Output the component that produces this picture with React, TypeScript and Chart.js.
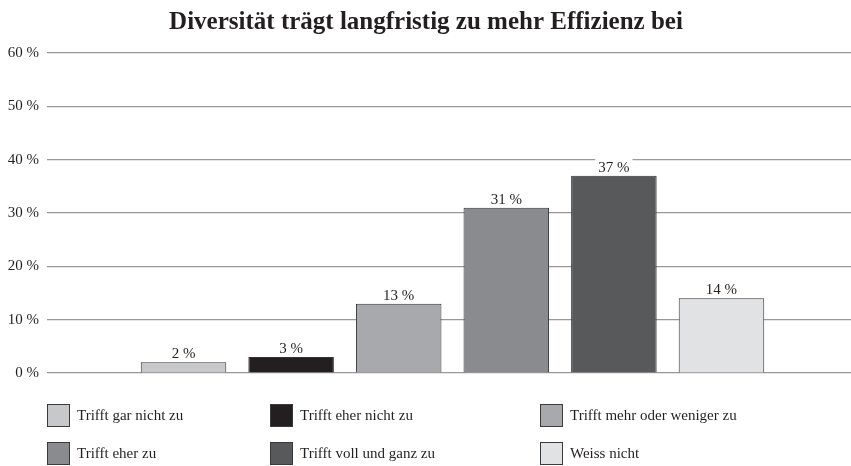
import React, { useEffect, useRef } from "react";
import { Chart, registerables } from "chart.js";

Chart.register(...registerables);

const TITLE = "Diversität trägt langfristig zu mehr Effizienz bei";
const CATEGORIES = [""];
const SERIES_LABELS = [
  "Trifft gar nicht zu",
  "Trifft eher nicht zu",
  "Trifft mehr oder weniger zu",
  "Trifft eher zu",
  "Trifft voll und ganz zu",
  "Weiss nicht",
];
const SERIES_VALUES = [2, 3, 13, 31, 37, 14];
const SERIES_COLORS = ["#c7c8ca", "#231f20", "#a7a9ac", "#8a8b8e", "#58595b", "#e1e2e3"];
const Y_TICKS = [0, 10, 20, 30, 40, 50, 60];

const FONT = "'Liberation Serif', 'DejaVu Serif', serif";

const titlePlugin = {
  id: "customTitle",
  afterDraw(chart: any) {
    const ctx = chart.ctx;
    ctx.save();
    ctx.font = `bold 25px ${FONT}`;
    ctx.fillStyle = "#231f20";
    ctx.textAlign = "center";
    ctx.textBaseline = "alphabetic";
    ctx.fillText(TITLE, 426, 29);
    ctx.restore();
  },
};

const labelPlugin = {
  id: "valueLabels",
  afterDatasetsDraw(chart: any) {
    const ctx = chart.ctx;
    ctx.save();
    ctx.font = `15px ${FONT}`;
    ctx.textAlign = "center";
    ctx.textBaseline = "alphabetic";
    chart.data.datasets.forEach((ds: any, i: number) => {
      const meta = chart.getDatasetMeta(i);
      meta.data.forEach((bar: any, j: number) => {
        const text = `${ds.data[j]} %`;
        const w = ctx.measureText(text).width;
        const y = bar.y - 4;
        ctx.fillStyle = "#ffffff";
        ctx.fillRect(bar.x - w / 2 - 3, y - 13, w + 6, 15);
        ctx.fillStyle = "#231f20";
        ctx.fillText(text, bar.x, y);
      });
    });
    ctx.restore();
  },
};

const legendPlugin = {
  id: "gridLegend",
  afterDraw(chart: any) {
    const ctx = chart.ctx;
    const colX = [47, 270, 540];
    const rowY = [404, 442];
    ctx.save();
    ctx.font = `15px ${FONT}`;
    ctx.textBaseline = "middle";
    ctx.textAlign = "left";
    chart.data.datasets.forEach((ds: any, i: number) => {
      const x = colX[i % 3];
      const y = rowY[Math.floor(i / 3)];
      ctx.fillStyle = ds.backgroundColor;
      ctx.fillRect(x, y, 23, 23);
      ctx.strokeStyle = "#3a3a3a";
      ctx.lineWidth = 1;
      ctx.strokeRect(x + 0.5, y + 0.5, 22, 22);
      ctx.fillStyle = "#231f20";
      ctx.fillText(ds.label, x + 30, y + 12);
    });
    ctx.restore();
  },
};

export default function App() {
  const ref = useRef<HTMLCanvasElement>(null);
  useEffect(() => {
    document.body.style.margin = "0";
    const chart = new Chart(ref.current!, {
      type: "bar",
      data: {
        labels: CATEGORIES,
        datasets: SERIES_LABELS.map((label, i) => ({
          label,
          data: [SERIES_VALUES[i]],
          backgroundColor: SERIES_COLORS[i],
          borderColor: "#333333",
          borderWidth: 1,
          categoryPercentage: 0.796,
          barPercentage: 0.795,
        })),
      },
      options: {
        animation: false,
        responsive: false,
        maintainAspectRatio: false,
        layout: { padding: { top: 53, bottom: 93, left: 0, right: 0 } },
        plugins: {
          legend: { display: false },
          title: { display: false },
          tooltip: { enabled: false },
        },
        scales: {
          x: { display: false },
          y: {
            min: 0,
            max: 60,
            afterFit: (scale: any) => {
              scale.width = 47;
            },
            afterBuildTicks: (scale: any) => {
              scale.ticks = Y_TICKS.map((v) => ({ value: v }));
            },
            border: { display: false },
            grid: { color: "#98989a", lineWidth: 1.2, drawTicks: false },
            ticks: {
              padding: 8,
              color: "#231f20",
              font: { family: FONT, size: 15 },
              callback: (v: any) => `${v} %`,
            },
          },
        },
      },
      plugins: [titlePlugin, labelPlugin, legendPlugin],
    });
    return () => chart.destroy();
  }, []);
  return (
    <div style={{ position: "absolute", left: 0, top: 0, width: 851, height: 466, overflow: "hidden", background: "#fff" }}>
      <canvas ref={ref} width={858} height={466} style={{ width: 858, height: 466, display: "block" }} />
    </div>
  );
}
